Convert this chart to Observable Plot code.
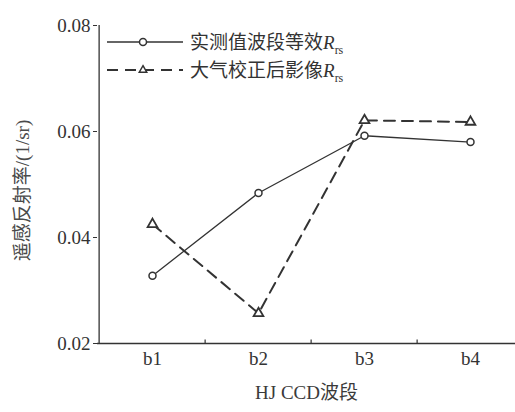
<!DOCTYPE html>
<html>
<head>
<meta charset="utf-8">
<script src="https://cdn.jsdelivr.net/npm/d3@7"></script>
<script src="https://cdn.jsdelivr.net/npm/@observablehq/plot@0.6"></script>
<style>
  body { margin: 0; background: #fff; }
  #wrap { position: relative; width: 515px; height: 412px; }
  #wrap svg { font-family: "Liberation Serif", "Noto Sans CJK SC", serif; }
  #legend { position: absolute; left: 0; top: 0; }
</style>
</head>
<body>
<div id="wrap"></div>
<script>
const bands = ["b1", "b2", "b3", "b4"];
const measured = [0.0328, 0.0484, 0.0592, 0.0580];
const corrected = [0.0425, 0.0257, 0.0621, 0.0618];
const yTicks = [0.02, 0.04, 0.06, 0.08];
const seriesNames = ["实测值波段等效", "大气校正后影像"];
const xLabel = "HJ CCD波段";
const yLabel = "遥感反射率/(1/sr)";

const ink = "#333";
const measuredData = bands.map((b, i) => ({band: b, value: measured[i]}));
const correctedData = bands.map((b, i) => ({band: b, value: corrected[i]}));

const W = 515, H = 412, mL = 97, mT = 25, mB = 69;
const xRange = [97, 524];
const bw = (xRange[1] - xRange[0]) / bands.length;

// small upward tick as a custom symbol
const tickUp = {draw(ctx) { ctx.moveTo(0, 0); ctx.lineTo(0, -4); }};

const chart = Plot.plot({
  width: W, height: H,
  marginLeft: mL, marginRight: 0, marginTop: mT, marginBottom: mB,
  style: {fontSize: "19px", color: ink, background: "#fff"},
  x: {type: "band", domain: bands, range: xRange, padding: 0},
  y: {domain: [0.02, 0.08]},
  marks: [
    Plot.axisX({tickSize: 0, tickPadding: 8, fontSize: 19, label: null}),
    Plot.axisY({ticks: yTicks, tickFormat: d3.format(".2f"), tickSize: 4, tickPadding: 3, fontSize: 19, label: null}),
    Plot.text([xLabel], {frameAnchor: "bottom", dy: 49, textAnchor: "middle", lineAnchor: "middle", fontSize: 19, fill: "#3a3a3a"}),
    Plot.text([yLabel], {frameAnchor: "left", dx: -75, dy: 6, rotate: -90, textAnchor: "middle", lineAnchor: "middle", fontSize: 19, fill: "#4a4a4a", style: "letter-spacing: 0.6px"}),
    Plot.ruleY([0.02], {stroke: ink, strokeWidth: 1.3}),
    Plot.ruleX(["b1"], {dx: -bw / 2, stroke: ink, strokeWidth: 1.3}),
    Plot.dot(bands.slice(1), {x: d => d, y: () => 0.02, dx: -bw / 2, symbol: tickUp, stroke: ink, strokeWidth: 1.2, fill: "none"}),
    Plot.lineY(measuredData, {x: "band", y: "value", stroke: ink, strokeWidth: 1.3}),
    Plot.lineY(correctedData, {x: "band", y: "value", stroke: ink, strokeWidth: 2, strokeDasharray: "11,7"}),
    Plot.dot(measuredData, {x: "band", y: "value", symbol: "circle", r: 3.5, fill: "#fff", stroke: ink, strokeWidth: 1.5}),
    Plot.dot(correctedData, {x: "band", y: "value", symbol: "triangle", r: 3.6, fill: "#fff", stroke: ink, strokeWidth: 1.8})
  ]
});
document.getElementById("wrap").appendChild(chart);

// Legend overlay (inside the plot area, top-left)
const leg = d3.select("#wrap").append("svg").attr("id", "legend")
  .attr("width", W).attr("height", 100)
  .style("font-family", "'Liberation Serif', 'Noto Sans CJK SC', serif");
const rows = [
  {name: seriesNames[0], dash: null, sw: 1.3, sym: d3.symbolCircle, size: Math.PI * 3.5 * 3.5, y: 42},
  {name: seriesNames[1], dash: "11,7", sw: 2, sym: d3.symbolTriangle, size: 24, y: 70}
];
rows.forEach(r => {
  const g = leg.append("g");
  g.append("line").attr("x1", 107).attr("x2", 183).attr("y1", r.y).attr("y2", r.y)
    .attr("stroke", ink).attr("stroke-width", r.sw).attr("stroke-dasharray", r.dash);
  g.append("path").attr("d", d3.symbol(r.sym, r.size)()).attr("transform", `translate(143,${r.y})`)
    .attr("fill", "#fff").attr("stroke", ink).attr("stroke-width", 1.5);
  const t = g.append("text").attr("x", 190).attr("y", r.y + 7).attr("fill", ink).attr("font-size", 19);
  t.append("tspan").text(r.name);
  t.append("tspan").attr("font-style", "italic").text("R");
  t.append("tspan").attr("font-size", 12).attr("dy", 5).text("rs");
});
</script>
</body>
</html>
